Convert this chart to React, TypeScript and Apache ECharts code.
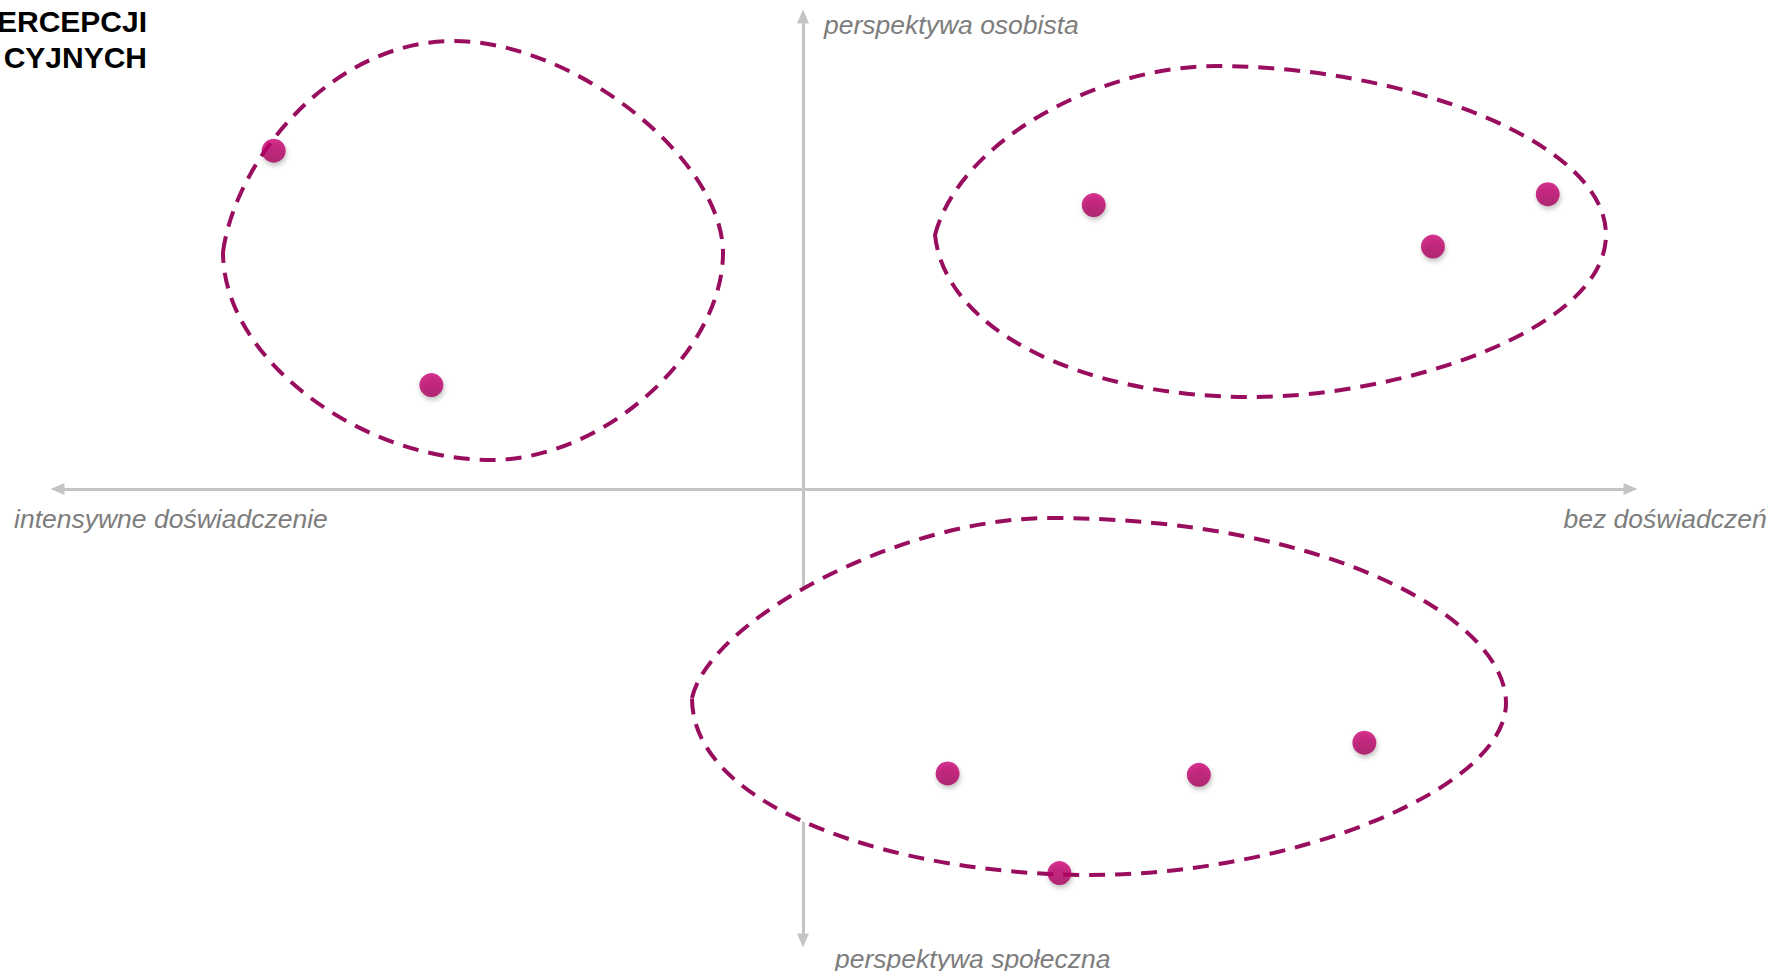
import React, { useEffect, useRef } from 'react';
import * as echarts from 'echarts';

// Perceptual map: x = experience (left: intensive, right: none), y = perspective (up: personal, down: social)
const X_MIN = -10;
const X_MAX = 11.1;
const Y_MIN = -9.556;
const Y_MAX = 10;

const POINT_X = [-7.1, -4.985, 3.9, 8.45, 9.99, 1.94, 5.31, 7.53, 3.44];
const POINT_Y = [7.16, 2.2, 6.01, 5.13, 6.24, -6.02, -6.05, -5.37, -8.13];

// Cluster outlines: closed cubic bezier loops in data units
// [anchor, ctrl1, ctrl2, anchor, ctrl1, ctrl2, anchor, ctrl1, ctrl2, anchor, ctrl1, ctrl2]
const OUTLINE_LEFT = [
  [-7.78, 5.016], [-7.613, 6.963], [-6.323, 9.481],
  [-4.689, 9.481], [-3.06, 9.481], [-1.073, 6.963],
  [-1.073, 4.995], [-1.073, 2.942], [-2.642, 0.614],
  [-4.19, 0.614], [-5.914, 0.614], [-7.78, 2.73],
];
const OUTLINE_RIGHT = [
  [1.771, 5.376], [2.106, 7.386], [3.984, 8.952],
  [5.54, 8.952], [8.008, 8.952], [10.771, 7.386],
  [10.771, 5.376], [10.771, 3.365], [8.008, 1.947],
  [6.023, 1.947], [3.716, 1.947], [1.905, 3.365],
];
const OUTLINE_BOTTOM = [
  [-1.489, -4.423], [-1.247, -2.772], [1.301, -0.614],
  [3.313, -0.614], [7.069, -0.614], [9.43, -2.772],
  [9.43, -4.529], [9.43, -6.37], [6.533, -8.169],
  [3.85, -8.169], [1.301, -8.169], [-1.489, -6.794],
];
const OUTLINES = [OUTLINE_LEFT, OUTLINE_RIGHT, OUTLINE_BOTTOM];

const TITLE_LINES = ['ERCEPCJI', 'CYJNYCH'];
const LABEL_TOP = 'perspektywa osobista';
const LABEL_BOTTOM = 'perspektywa społeczna';
const LABEL_LEFT = 'intensywne doświadczenie';
const LABEL_RIGHT = 'bez doświadczeń';

const FONT = '"Liberation Sans", Arial, Helvetica, sans-serif';
const AXIS_COLOR = '#c4c4c4';
const LABEL_COLOR = '#7d7d7d';
const OUTLINE_COLOR = '#990d5e';

export default function App() {
  const ref = useRef<HTMLDivElement>(null);

  useEffect(() => {
    if (!ref.current) return;
    const chart = echarts.init(ref.current, null, { renderer: 'svg' });

    const axisCommon = {
      type: 'value' as const,
      axisLine: {
        show: true,
        onZero: true,
        symbol: ['triangle', 'triangle'],
        symbolSize: [12, 14],
        lineStyle: { color: AXIS_COLOR, width: 3 },
      },
      axisTick: { show: false },
      axisLabel: { show: false },
      splitLine: { show: false },
    };

    const labelStyle = (text: string, align: string) => ({
      text,
      font: `italic 26.5px ${FONT}`,
      fill: LABEL_COLOR,
      textAlign: align,
      textVerticalAlign: 'middle',
    });

    const titleStyle = (text: string) => ({
      text,
      font: `bold 30px ${FONT}`,
      fill: '#000',
      textAlign: 'right',
      textVerticalAlign: 'middle',
    });

    const option: any = {
      animation: false,
      backgroundColor: '#ffffff',
      grid: { left: 57.5, right: 143.5, top: 16.5, bottom: 30.5 },
      xAxis: { ...axisCommon, min: X_MIN, max: X_MAX },
      yAxis: { ...axisCommon, min: Y_MIN, max: Y_MAX },
      graphic: [
        { type: 'text', x: 147, y: 21, style: titleStyle(TITLE_LINES[0]) },
        { type: 'text', x: 147, y: 57, style: titleStyle(TITLE_LINES[1]) },
        { type: 'text', x: 824, y: 24.5, style: labelStyle(LABEL_TOP, 'left') },
        { type: 'text', x: 835, y: 958.5, style: labelStyle(LABEL_BOTTOM, 'left') },
        { type: 'text', x: 14, y: 518.5, style: labelStyle(LABEL_LEFT, 'left') },
        { type: 'text', x: 1563.5, y: 518.5, style: labelStyle(LABEL_RIGHT, 'left') },
      ],
      series: [
        {
          type: 'custom',
          coordinateSystem: 'cartesian2d',
          z: 2,
          silent: true,
          data: OUTLINES.map((o) => [o[0][0], o[0][1]]),
          encode: { x: 0, y: 1 },
          renderItem: (params: any, api: any) => {
            const pts = OUTLINES[params.dataIndex].map((p) => api.coord(p));
            let d = `M${pts[0][0]},${pts[0][1]}`;
            for (let i = 1; i < pts.length; i += 3) {
              const a = pts[i];
              const b = pts[i + 1];
              const c = pts[(i + 2) % pts.length];
              d += ` C${a[0]},${a[1]} ${b[0]},${b[1]} ${c[0]},${c[1]}`;
            }
            d += ' Z';
            return {
              type: 'path',
              shape: { pathData: d },
              style: {
                fill: '#ffffff',
                stroke: OUTLINE_COLOR,
                lineWidth: 4,
                lineDash: [16, 10],
              },
            };
          },
        },
        {
          type: 'scatter',
          z: 3,
          symbol: 'circle',
          symbolSize: 24,
          data: POINT_X.map((x, i) => [x, POINT_Y[i]]),
          itemStyle: {
            color: {
              type: 'linear',
              x: 0,
              y: 0,
              x2: 0,
              y2: 1,
              colorStops: [
                { offset: 0, color: '#cc0074' },
                { offset: 1, color: '#a3005a' },
              ],
            },
            shadowBlur: 5,
            shadowOffsetX: 1,
            shadowOffsetY: 3,
            shadowColor: 'rgba(0,0,0,0.3)',
          },
        },
      ],
    };

    chart.setOption(option);
    return () => chart.dispose();
  }, []);

  return (
    <div
      ref={ref}
      style={{ position: 'absolute', left: 0, top: 0, width: 1774, height: 971 }}
    />
  );
}
